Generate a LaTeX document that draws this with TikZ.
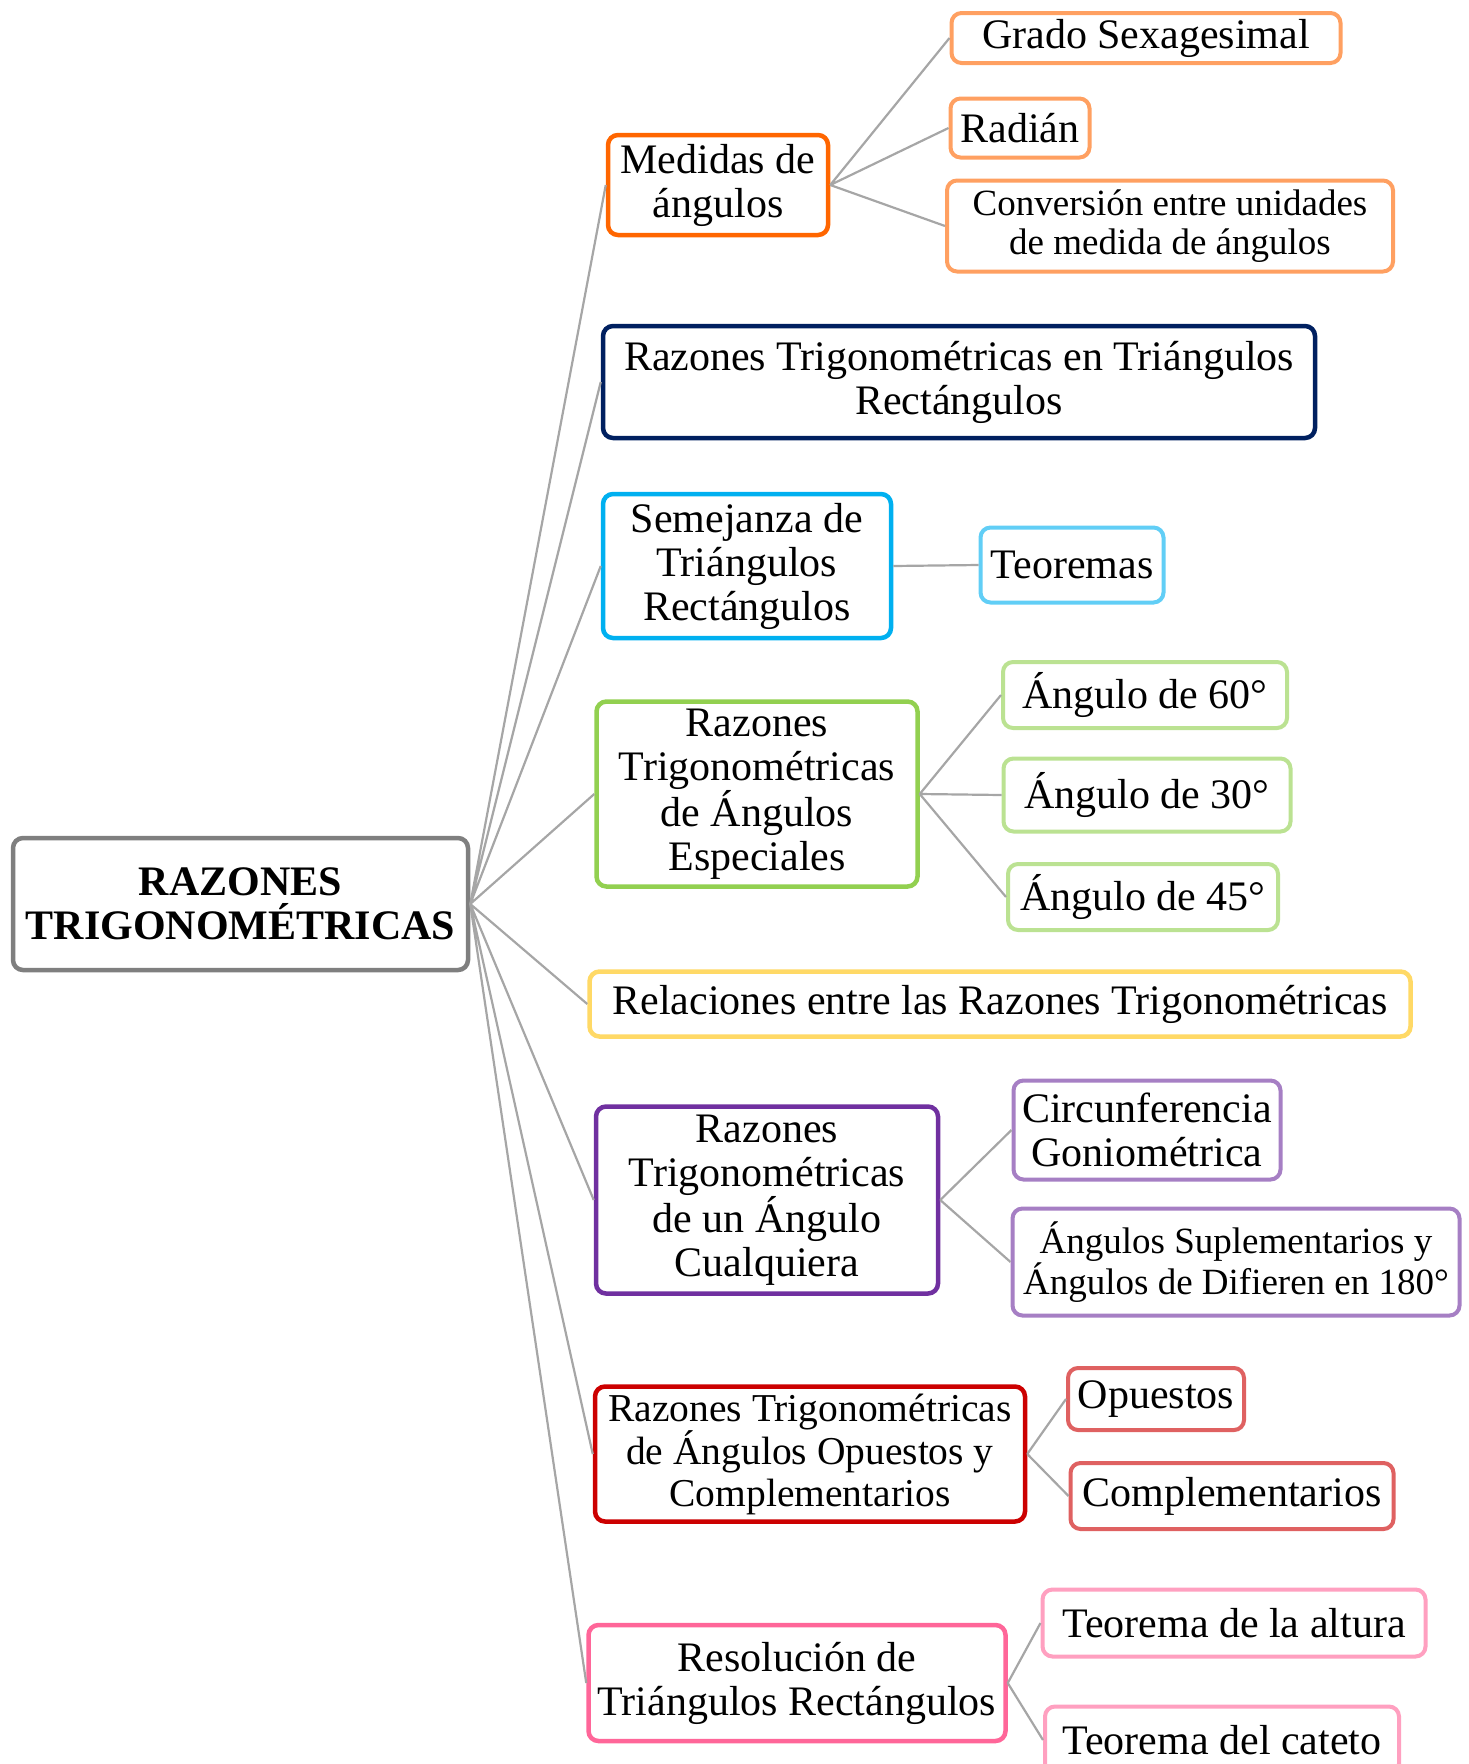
\documentclass[tikz,border=0pt]{standalone}
\usepackage{fontspec}
\usepackage{tikz}
\setmainfont{Liberation Serif}
\definecolor{rootgray}{HTML}{7F7F7F}
\definecolor{linkgray}{HTML}{A6A6A6}
\definecolor{medorange}{HTML}{FF6600}
\definecolor{rtrnavy}{HTML}{002060}
\definecolor{semcyan}{HTML}{00B0F0}
\definecolor{espgreen}{HTML}{92D050}
\definecolor{relyellow}{HTML}{FFD966}
\definecolor{cuapurple}{HTML}{7030A0}
\definecolor{opcred}{HTML}{CC0000}
\definecolor{respink}{HTML}{FF6699}

\begin{document}
\begin{tikzpicture}
	[x=1pt, y=-1pt,
	box/.style={rectangle, rounded corners=10pt, fill=white, inner sep=0pt, align=center,
		font=\fontsize{42}{44}\selectfont},
	topic/.style={box, draw=#1, line width=4.5pt},
	leaf/.style={box, draw=#1!62!white, line width=4pt},
	small/.style={font=\fontsize{37}{38.5}\selectfont},
	link/.style={draw=linkgray, line width=2.2pt}]
	\useasboundingbox (0,0) rectangle (1469,1764);
	\node[box, draw=rootgray, line width=4.5pt, minimum width=455pt, minimum height=132pt,
		font=\fontsize{42}{44}\selectfont\bfseries] (root) at (240.5,904) {RAZONES\\TRIGONOMÉTRICAS};
	\node[topic=medorange, minimum width=220pt, minimum height=100pt] (med) at (718,185) {Medidas de\\ángulos};
	\node[topic=rtrnavy, minimum width=712pt, minimum height=112pt] (rtr) at (959,382) {Razones Trigonométricas en Triángulos\\Rectángulos};
	\node[topic=semcyan, minimum width=288pt, minimum height=144pt] (sem) at (747,566) {Semejanza de\\Triángulos\\Rectángulos};
	\node[topic=espgreen, minimum width=321pt, minimum height=185pt] (esp) at (757,794) {Razones\\Trigonométricas\\de Ángulos\\Especiales};
	\node[topic=relyellow, minimum width=821pt, minimum height=65pt] (rel) at (1000,1004) {Relaciones entre las Razones Trigonométricas};
	\node[topic=cuapurple, minimum width=342pt, minimum height=187pt] (cua) at (767,1200) {Razones\\Trigonométricas\\de un Ángulo\\Cualquiera};
	\node[topic=opcred, minimum width=430pt, minimum height=135pt, font=\fontsize{39.5}{41.6}\selectfont] (opc) at (810,1454) {Razones Trigonométricas\\de Ángulos Opuestos y\\Complementarios};
	\node[topic=respink, minimum width=417pt, minimum height=116pt] (res) at (797,1683) {Resolución de\\Triángulos Rectángulos};

	\node[leaf=medorange, minimum width=389pt, minimum height=50pt] (gra) at (1146,38) {Grado Sexagesimal};
	\node[leaf=medorange, minimum width=139pt, minimum height=59pt] (rad) at (1020,128) {Radián};
	\node[leaf=medorange, small, minimum width=446pt, minimum height=91pt] (con) at (1170,226) {Conversión entre unidades\\de medida de ángulos};
	\node[leaf=semcyan, minimum width=183pt, minimum height=75pt] (teo) at (1072,565) {Teoremas};
	\node[leaf=espgreen, minimum width=284pt, minimum height=66pt] (a60) at (1145,695) {Ángulo de 60°};
	\node[leaf=espgreen, minimum width=287pt, minimum height=73pt] (a30) at (1147,795) {Ángulo de 30°};
	\node[leaf=espgreen, minimum width=270pt, minimum height=66pt] (a45) at (1143,897) {Ángulo de 45°};
	\node[leaf=cuapurple, minimum width=267pt, minimum height=99pt] (cir) at (1147,1130) {Circunferencia\\Goniométrica};
	\node[leaf=cuapurple, small, minimum width=447pt, minimum height=107pt] (sup) at (1236,1262) {Ángulos Suplementarios y\\Ángulos de Difieren en 180°};
	\node[leaf=opcred, minimum width=176pt, minimum height=62pt] (opu) at (1156,1399) {Opuestos};
	\node[leaf=opcred, minimum width=323pt, minimum height=66pt] (com) at (1232,1496) {Complementarios};
	\node[leaf=respink, minimum width=383pt, minimum height=67pt] (alt) at (1234,1623) {Teorema de la altura};
	\node[leaf=respink, minimum width=354pt, minimum height=67pt] (cat) at (1222,1740) {Teorema del cateto};

	\draw[link] (root.east) -- (med.west) (root.east) -- (rtr.west) (root.east) -- (sem.west)
		(root.east) -- (esp.west) (root.east) -- (rel.west) (root.east) -- (cua.west)
		(root.east) -- (opc.west) (root.east) -- (res.west);
	\draw[link] (med.east) -- (gra.west) (med.east) -- (rad.west) (med.east) -- (con.west);
	\draw[link] (sem.east) -- (teo.west);
	\draw[link] (esp.east) -- (a60.west) (esp.east) -- (a30.west) (esp.east) -- (a45.west);
	\draw[link] (cua.east) -- (cir.west) (cua.east) -- (sup.west);
	\draw[link] (opc.east) -- (opu.west) (opc.east) -- (com.west);
	\draw[link] (res.east) -- (alt.west) (res.east) -- (cat.west);
\end{tikzpicture}
\end{document}
